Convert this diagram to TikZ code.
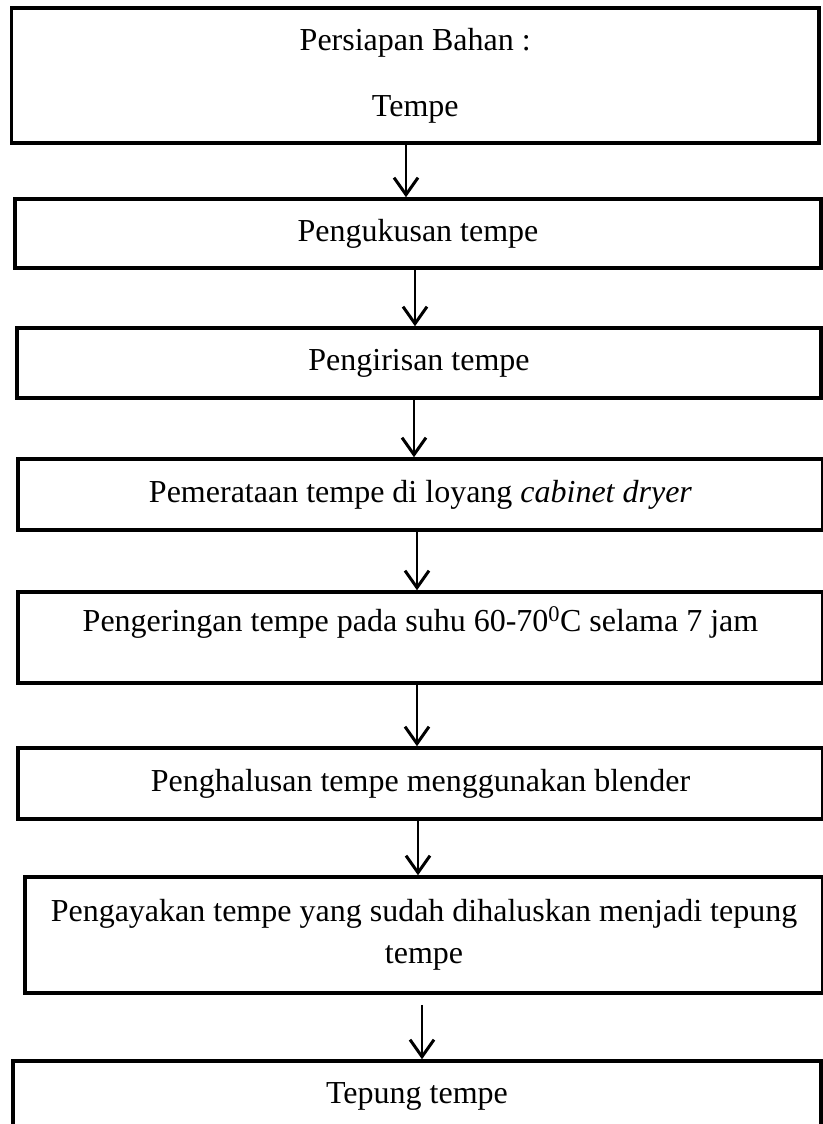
\documentclass[tikz,border=0pt]{standalone}
\usepackage{fontspec}
\setmainfont{Liberation Serif}
\usetikzlibrary{arrows.meta}

\tikzset{
    langkah/.style={draw, rectangle, line width=3.5pt, inner sep=0pt, align=center,
        font=\fontsize{32}{42}\selectfont},
    panah/.style={line width=2.8pt, -{Straight Barb[length=17pt,width=24pt,line width=3pt]}}
}

\begin{document}
\begin{tikzpicture}[x=1pt, y=-1pt]
    \useasboundingbox (0,0) rectangle (822,1124);

    % Bahan
    \node[langkah, minimum width=807.5, minimum height=135] (bahan) at (415.25,75.5)
        {Persiapan Bahan :\\[24pt]Tempe};

    % Pengukusan
    \node[langkah, minimum width=806, minimum height=69] (kukus) at (418,233.5) {Pengukusan tempe};

    % Pengirisan
    \node[langkah, minimum width=804, minimum height=70] (iris) at (419,363) {Pengirisan tempe};

    % Pemerataan
    \node[langkah, minimum width=805, minimum height=71] (rata) at (420.5,494.5)
        {Pemerataan tempe di loyang \textit{cabinet dryer}};

    % Pengeringan
    \node[langkah, minimum width=805, minimum height=91, text height=21.5pt, text depth=34.5pt] (kering) at (420.5,637.5)
        {Pengeringan tempe pada suhu 60-70\textsuperscript{0}C selama 7 jam};

    % Penghalusan
    \node[langkah, minimum width=805, minimum height=71] (halus) at (420.5,783.5)
        {Penghalusan tempe menggunakan blender};

    % Pengayakan
    \node[langkah, minimum width=798, minimum height=116] (ayak) at (424,935)
        {Pengayakan tempe yang sudah dihaluskan menjadi tepung\\tempe};

    % Tepung
    \node[langkah, minimum width=808, minimum height=70] (tepung) at (417,1096) {Tepung tempe};

    % Arrows
    \draw[panah] (bahan.south -| 406,0) -- (kukus.north -| 406,0);
    \draw[panah] (kukus.south -| 415,0) -- (iris.north -| 415,0);
    \draw[panah] (iris.south -| 414,0) -- (rata.north -| 414,0);
    \draw[panah] (rata.south -| 417,0) -- (kering.north -| 417,0);
    \draw[panah] (kering.south -| 417,0) -- (halus.north -| 417,0);
    \draw[panah] (halus.south -| 418,0) -- (ayak.north -| 418,0);
    \draw[panah, shorten <=10pt] (ayak.south -| 422,0) -- (tepung.north -| 422,0);
\end{tikzpicture}
\end{document}
